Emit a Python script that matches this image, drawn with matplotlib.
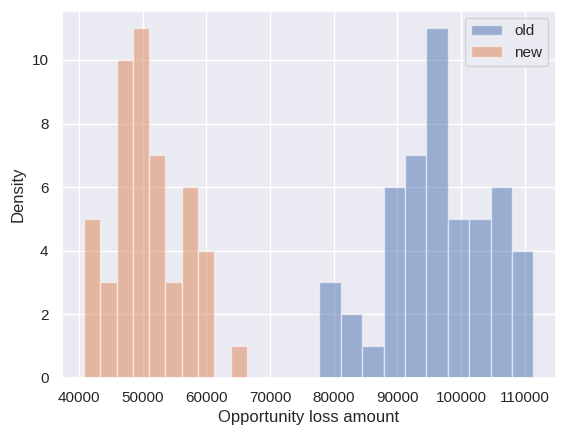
import numpy as np
import matplotlib
matplotlib.use("Agg")
import matplotlib.pyplot as plt
import seaborn as sns

sns.set_theme(style="darkgrid")
plt.rcParams['font.family'] = ['Liberation Sans', 'DejaVu Sans']

# bin edges and counts
old_edges = np.linspace(77770, 111340, 11)
old_counts = [3, 2, 1, 6, 7, 11, 5, 5, 6, 4]
new_edges = np.linspace(40830, 66360, 11)
new_counts = [5, 3, 10, 11, 7, 3, 6, 4, 0, 1]

fig = plt.figure(figsize=(5.66, 4.37), dpi=100)
ax = fig.add_axes([0.109, 0.1357, 0.873, 0.8398])

old_centers = (old_edges[:-1] + old_edges[1:]) / 2
new_centers = (new_edges[:-1] + new_edges[1:]) / 2
ax.hist(old_centers, bins=old_edges, weights=old_counts, alpha=0.5,
        label="old", color="C0", edgecolor="white", linewidth=1)
ax.hist(new_centers, bins=new_edges, weights=new_counts, alpha=0.5,
        label="new", color="C1", edgecolor="white", linewidth=1)

ax.set_xlabel("Opportunity loss amount")
ax.set_ylabel("Density")
ax.legend(loc="upper right")

fig.savefig("out.png", dpi=100)
